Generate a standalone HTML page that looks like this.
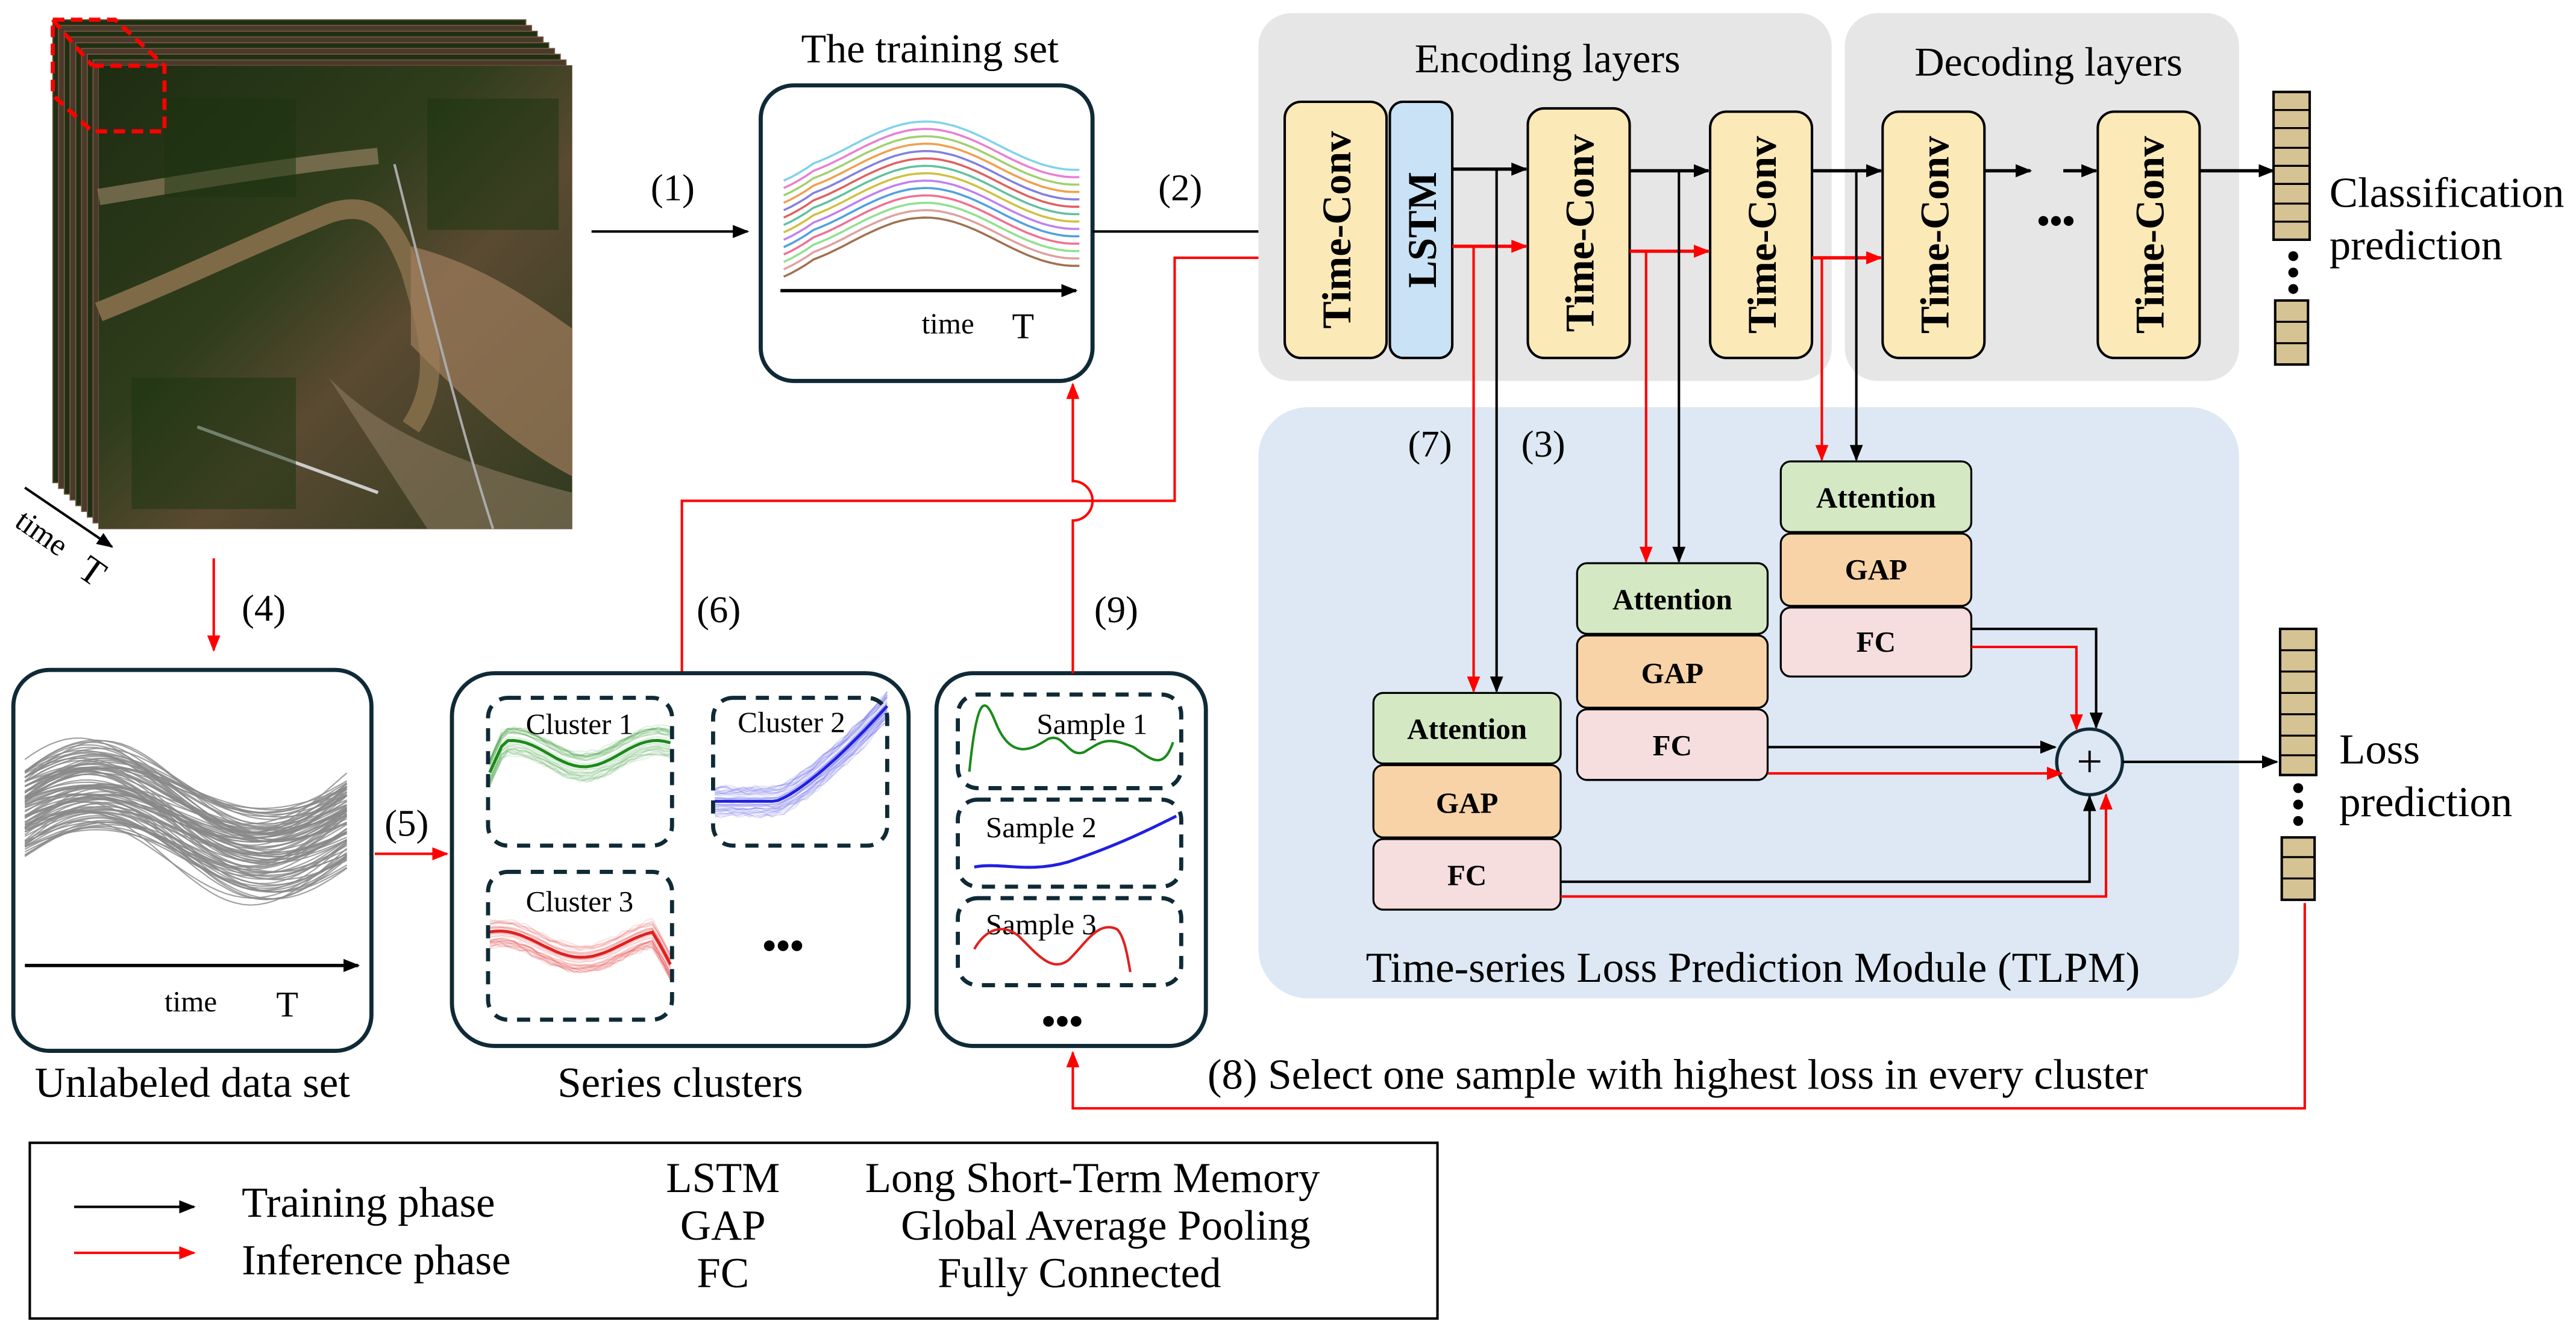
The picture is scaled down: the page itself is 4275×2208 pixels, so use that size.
<!DOCTYPE html>
<html><head><meta charset="utf-8">
<style>
html,body{margin:0;padding:0;background:#fff;}
svg{display:block;}
svg text{font-family:"Liberation Serif","Times New Roman",serif;fill:#000;}
.b{font-weight:bold;}
</style></head>
<body>
<svg id="s" width="4275" height="2208" viewBox="0 0 1568 810" xmlns="http://www.w3.org/2000/svg" font-family="Liberation Serif, serif">
<defs>
<marker id="ak" markerWidth="10" markerHeight="8" refX="9" refY="4" orient="auto" markerUnits="userSpaceOnUse"><path d="M0,0 L10,4 L0,8 z" fill="#000"/></marker>
<marker id="ar" markerWidth="10" markerHeight="8" refX="9" refY="4" orient="auto" markerUnits="userSpaceOnUse"><path d="M0,0 L10,4 L0,8 z" fill="#f00"/></marker>
<linearGradient id="sat" x1="0" y1="0" x2="1" y2="1">
<stop offset="0" stop-color="#1e2c12"/><stop offset="0.4" stop-color="#2f3d1c"/><stop offset="0.6" stop-color="#5a4a32"/><stop offset="1" stop-color="#2e3a1e"/>
</linearGradient>
</defs>

<g id="stack"></g>
<g>
<rect x="60" y="40" width="288" height="282" fill="url(#sat)"/>
<path d="M60,190 C110,170 150,150 200,130 C230,120 240,140 250,165 C260,200 270,230 250,260" stroke="#7f6a48" stroke-width="12" fill="none"/>
<path d="M250,150 C290,160 320,180 348,200 L348,290 C310,270 280,240 250,210 Z" fill="#a07d5c" opacity="0.7"/>
<path d="M60,120 C120,110 180,100 230,95" stroke="#b89a7a" stroke-width="10" fill="none" opacity="0.5"/>
<path d="M200,230 C230,260 270,280 348,300 L348,322 L260,322 Z" fill="#8c7a60" opacity="0.6"/>
<path d="M120,260 L230,300" stroke="#ccc" stroke-width="2"/>
<path d="M240,100 C260,180 280,260 300,322" stroke="#aaa" stroke-width="1.5" fill="none"/>
<rect x="100" y="60" width="80" height="60" fill="#1a3310" opacity="0.5"/>
<rect x="260" y="60" width="80" height="80" fill="#1a3310" opacity="0.5"/>
<rect x="80" y="230" width="100" height="80" fill="#1a3310" opacity="0.5"/>
</g>
<path d="M32,12 L70,12 L100,40 L100,80 L56,80 L32,58 Z" fill="none" stroke="#f00" stroke-width="2.5" stroke-dasharray="7,4"/>
<path d="M56,40 L100,40 M32,12 L56,40" fill="none" stroke="#f00" stroke-width="2.5" stroke-dasharray="7,4"/>
<line x1="15" y1="297" x2="68" y2="333" stroke="#000" stroke-width="1.5" marker-end="url(#ak)"/>
<text x="8" y="320" font-size="19" transform="rotate(35 8 320)">time</text>
<text x="46" y="350" font-size="23" font-family="Liberation Sans, sans-serif" transform="rotate(35 46 350)">T</text>

<text x="396" y="122" font-size="23">(1)</text>
<line x1="360" y1="141" x2="455" y2="141" stroke="#000" stroke-width="1.5" marker-end="url(#ak)"/>

<text x="566" y="38" font-size="25" text-anchor="middle">The training set</text>
<rect x="463" y="52" width="202" height="180" rx="20" fill="#fff" stroke="#0f2a36" stroke-width="2.5"/>
<g id="train"></g>
<line x1="475" y1="177" x2="655" y2="177" stroke="#000" stroke-width="2" marker-end="url(#ak)"/>
<text x="561" y="203" font-size="18">time</text>
<text x="616" y="206" font-size="22" font-family="Liberation Sans, sans-serif">T</text>

<text x="705" y="122" font-size="23">(2)</text>
<line x1="665" y1="141" x2="780" y2="141" stroke="#000" stroke-width="1.5" marker-end="url(#ak)"/>
<polyline points="415,410 415,305 715,305 715,157 780,157" fill="none" stroke="#f00" stroke-width="1.5" marker-end="url(#ar)"/>

<rect x="766" y="8" width="349" height="224" rx="20" fill="#e6e6e6"/>
<rect x="1123" y="8" width="240" height="224" rx="20" fill="#e6e6e6"/>
<text x="942" y="44" font-size="25" text-anchor="middle">Encoding layers</text>
<text x="1247" y="46" font-size="25" text-anchor="middle">Decoding layers</text>

<g stroke="#000" stroke-width="1.5">
<rect x="782" y="62" width="62" height="156" rx="10" fill="#fbe9b7"/>
<rect x="846" y="62" width="38" height="156" rx="8" fill="#c9e2f5"/>
<rect x="930" y="66" width="62" height="152" rx="10" fill="#fbe9b7"/>
<rect x="1041" y="68" width="62" height="150" rx="10" fill="#fbe9b7"/>
<rect x="1146" y="68" width="62" height="150" rx="10" fill="#fbe9b7"/>
<rect x="1277" y="68" width="62" height="150" rx="10" fill="#fbe9b7"/>
</g>
<g font-size="25" text-anchor="middle">
<text class="b" transform="translate(822,140) rotate(-90)">Time-Conv</text>
<text class="b" transform="translate(874,140) rotate(-90)">LSTM</text>
<text class="b" transform="translate(970,142) rotate(-90)">Time-Conv</text>
<text class="b" transform="translate(1081,143) rotate(-90)">Time-Conv</text>
<text class="b" transform="translate(1186,143) rotate(-90)">Time-Conv</text>
<text class="b" transform="translate(1317,143) rotate(-90)">Time-Conv</text>
</g>
<g stroke="#000" stroke-width="2" marker-end="url(#ak)">
<line x1="884" y1="103" x2="929" y2="103"/>
<line x1="992" y1="104" x2="1040" y2="104"/>
<line x1="1103" y1="104" x2="1145" y2="104"/>
<line x1="1208" y1="104" x2="1236" y2="104"/>
<line x1="1256" y1="104" x2="1276" y2="104"/>
<line x1="1339" y1="104" x2="1384" y2="104"/>
</g>
<text x="1240" y="142" font-size="22" class="b">•••</text>
<g stroke="#f00" stroke-width="2" marker-end="url(#ar)">
<line x1="884" y1="150" x2="929" y2="150"/>
<line x1="992" y1="153" x2="1040" y2="153"/>
<line x1="1103" y1="157" x2="1145" y2="157"/>
</g>

<g fill="#d6c393" stroke="#000" stroke-width="1.5">
<rect x="1384" y="56" width="22" height="90"/>
<rect x="1385" y="183" width="20" height="39"/>
</g>
<g stroke="#000" stroke-width="1.2">
<line x1="1384" y1="67" x2="1406" y2="67"/><line x1="1384" y1="78" x2="1406" y2="78"/><line x1="1384" y1="90" x2="1406" y2="90"/><line x1="1384" y1="101" x2="1406" y2="101"/><line x1="1384" y1="112" x2="1406" y2="112"/><line x1="1384" y1="124" x2="1406" y2="124"/><line x1="1384" y1="135" x2="1406" y2="135"/>
<line x1="1385" y1="196" x2="1405" y2="196"/><line x1="1385" y1="209" x2="1405" y2="209"/>
</g>
<g fill="#000"><circle cx="1396" cy="156" r="3"/><circle cx="1396" cy="166" r="3"/><circle cx="1396" cy="176" r="3"/></g>
<text x="1418" y="126" font-size="26">Classification</text>
<text x="1418" y="158" font-size="26">prediction</text>

<rect x="766" y="248" width="597" height="360" rx="30" fill="#dde8f4"/>
<text x="1067" y="598" font-size="26" text-anchor="middle">Time-series Loss Prediction Module (TLPM)</text>
<text x="857" y="278" font-size="23">(7)</text>
<text x="926" y="278" font-size="23">(3)</text>

<g stroke="#000" stroke-width="1.5" marker-end="url(#ak)">
<line x1="911" y1="103" x2="911" y2="421"/>
<line x1="1022" y1="104" x2="1022" y2="342"/>
<line x1="1130" y1="104" x2="1130" y2="280"/>
</g>
<g stroke="#f00" stroke-width="1.5" marker-end="url(#ar)">
<line x1="897" y1="150" x2="897" y2="421"/>
<line x1="1002" y1="153" x2="1002" y2="342"/>
<line x1="1109" y1="157" x2="1109" y2="280"/>
</g>

<g stroke="#000" stroke-width="1.2">
<rect x="836" y="422" width="114" height="43" rx="6" fill="#d5e8c4"/>
<rect x="836" y="466" width="114" height="44" rx="6" fill="#f8d3a8"/>
<rect x="836" y="511" width="114" height="43" rx="6" fill="#f6dede"/>
<rect x="960" y="343" width="116" height="43" rx="6" fill="#d5e8c4"/>
<rect x="960" y="387" width="116" height="44" rx="6" fill="#f8d3a8"/>
<rect x="960" y="432" width="116" height="43" rx="6" fill="#f6dede"/>
<rect x="1084" y="281" width="116" height="43" rx="6" fill="#d5e8c4"/>
<rect x="1084" y="325" width="116" height="44" rx="6" fill="#f8d3a8"/>
<rect x="1084" y="370" width="116" height="42" rx="6" fill="#f6dede"/>
</g>
<g font-size="18" text-anchor="middle">
<text class="b" x="893" y="450">Attention</text><text class="b" x="893" y="495">GAP</text><text class="b" x="893" y="539">FC</text>
<text class="b" x="1018" y="371">Attention</text><text class="b" x="1018" y="416">GAP</text><text class="b" x="1018" y="460">FC</text>
<text class="b" x="1142" y="309">Attention</text><text class="b" x="1142" y="353">GAP</text><text class="b" x="1142" y="397">FC</text>
</g>

<circle cx="1272" cy="464" r="20" fill="#dde8f4" stroke="#0f2a36" stroke-width="2"/>
<text x="1272" y="473" font-size="28" text-anchor="middle" font-family="Liberation Sans, sans-serif">+</text>
<g fill="none" stroke="#000" stroke-width="1.5" marker-end="url(#ak)">
<polyline points="1200,383 1276,383 1276,443"/>
<line x1="1076" y1="455" x2="1251" y2="455"/>
<polyline points="950,537 1272,537 1272,485"/>
<line x1="1292" y1="464" x2="1386" y2="464"/>
</g>
<g fill="none" stroke="#f00" stroke-width="1.5" marker-end="url(#ar)">
<polyline points="1200,394 1264,394 1264,444"/>
<line x1="1076" y1="471" x2="1255" y2="471"/>
<polyline points="950,546 1282,546 1282,484"/>
</g>

<g fill="#d6c393" stroke="#000" stroke-width="1.5">
<rect x="1388" y="383" width="22" height="89"/>
<rect x="1389" y="510" width="20" height="38"/>
</g>
<g stroke="#000" stroke-width="1.2">
<line x1="1388" y1="396" x2="1410" y2="396"/><line x1="1388" y1="409" x2="1410" y2="409"/><line x1="1388" y1="422" x2="1410" y2="422"/><line x1="1388" y1="435" x2="1410" y2="435"/><line x1="1388" y1="448" x2="1410" y2="448"/><line x1="1388" y1="460" x2="1410" y2="460"/>
<line x1="1389" y1="522" x2="1409" y2="522"/><line x1="1389" y1="535" x2="1409" y2="535"/>
</g>
<g fill="#000"><circle cx="1399" cy="480" r="3"/><circle cx="1399" cy="490" r="3"/><circle cx="1399" cy="500" r="3"/></g>
<text x="1424" y="465" font-size="26">Loss</text>
<text x="1424" y="497" font-size="26">prediction</text>

<polyline points="1403,550 1403,675 653,675 653,641" fill="none" stroke="#f00" stroke-width="1.5" marker-end="url(#ar)"/>
<text x="735" y="663" font-size="26">(8)  Select one sample with highest loss in every cluster</text>

<line x1="130" y1="340" x2="130" y2="396" stroke="#f00" stroke-width="1.5" marker-end="url(#ar)"/>
<text x="147" y="378" font-size="23">(4)</text>

<rect x="8" y="408" width="218" height="232" rx="22" fill="#fff" stroke="#0f2a36" stroke-width="2.5"/>
<g id="unl"></g>
<line x1="15" y1="588" x2="218" y2="588" stroke="#000" stroke-width="2" marker-end="url(#ak)"/>
<text x="100" y="616" font-size="18">time</text>
<text x="168" y="619" font-size="22" font-family="Liberation Sans, sans-serif">T</text>
<text x="117" y="668" font-size="26" text-anchor="middle">Unlabeled data set</text>

<text x="234" y="509" font-size="23">(5)</text>
<line x1="228" y1="520" x2="272" y2="520" stroke="#f00" stroke-width="1.5" marker-end="url(#ar)"/>

<rect x="275" y="410" width="278" height="227" rx="26" fill="#fff" stroke="#0f2a36" stroke-width="2.5"/>
<g id="clu"></g>
<g fill="none" stroke="#0f2a36" stroke-width="2.5" stroke-dasharray="8,6">
<rect x="297" y="425" width="112" height="90" rx="12"/>
<rect x="434" y="425" width="106" height="90" rx="12"/>
<rect x="297" y="531" width="112" height="90" rx="12"/>
</g>
<g font-size="18"><text x="320" y="447">Cluster 1</text><text x="449" y="446">Cluster 2</text><text x="320" y="555">Cluster 3</text></g>
<text x="464" y="584" font-size="24" class="b">•••</text>
<text x="414" y="668" font-size="26" text-anchor="middle">Series clusters</text>

<text x="424" y="379" font-size="23">(6)</text>

<rect x="570" y="410" width="164" height="227" rx="22" fill="#fff" stroke="#0f2a36" stroke-width="2.5"/>
<g fill="none" stroke="#0f2a36" stroke-width="2.5" stroke-dasharray="8,6">
<rect x="583" y="423" width="136" height="57" rx="12"/>
<rect x="583" y="487" width="136" height="53" rx="12"/>
<rect x="583" y="547" width="136" height="53" rx="12"/>
</g>
<g font-size="18"><text x="631" y="447">Sample 1</text><text x="600" y="510">Sample 2</text><text x="600" y="569">Sample 3</text></g>
<path d="M590,470 C595,420 600,425 606,440 C616,465 630,455 638,450 C648,446 650,462 660,458 C670,452 673,448 690,455 C700,462 708,470 714,452" fill="none" stroke="#1a8a1a" stroke-width="1.5"/>
<path d="M593,528 C610,525 625,532 650,525 C680,515 700,505 716,497" fill="none" stroke="#2020e0" stroke-width="1.8"/>
<path d="M593,578 C600,566 610,562 620,570 C632,582 640,592 650,585 C660,576 668,560 680,566 C684,570 686,580 688,592" fill="none" stroke="#e02020" stroke-width="1.5"/>
<text x="634" y="630" font-size="24" class="b">•••</text>

<path d="M653,410 L653,317 A12,12 0 0 0 653,293 L653,234" fill="none" stroke="#f00" stroke-width="1.5" marker-end="url(#ar)"/>
<text x="666" y="379" font-size="23">(9)</text>

<rect x="18" y="696" width="857" height="107" fill="#fff" stroke="#000" stroke-width="1.5"/>
<line x1="45" y1="735" x2="118" y2="735" stroke="#000" stroke-width="1.5" marker-end="url(#ak)"/>
<line x1="45" y1="763" x2="118" y2="763" stroke="#f00" stroke-width="1.5" marker-end="url(#ar)"/>
<g font-size="26">
<text x="147" y="741">Training phase</text>
<text x="147" y="776">Inference phase</text>
<text x="440" y="726" text-anchor="middle">LSTM</text>
<text x="440" y="755" text-anchor="middle">GAP</text>
<text x="440" y="784" text-anchor="middle">FC</text>
<text x="665" y="726" text-anchor="middle">Long Short-Term Memory</text>
<text x="673" y="755" text-anchor="middle">Global Average Pooling</text>
<text x="657" y="784" text-anchor="middle">Fully Connected</text>
</g>
</svg>
<script>
(function(){
var NS="http://www.w3.org/2000/svg";
function P(g,d,c,w,o){var p=document.createElementNS(NS,"path");p.setAttribute("d",d);p.setAttribute("fill","none");p.setAttribute("stroke",c);p.setAttribute("stroke-width",w);if(o!=null)p.setAttribute("opacity",o);g.appendChild(p);}
var seed=7;function r(){seed=(seed*9301+49297)%233280;return seed/233280;}
var st=document.getElementById("stack");
for(var i=0;i<9;i++){var x=32+i*3.5,y=12+i*3.5;var rc=document.createElementNS(NS,"rect");rc.setAttribute("x",x);rc.setAttribute("y",y);rc.setAttribute("width",288);rc.setAttribute("height",282);rc.setAttribute("fill",i%2?"#4a3a2a":"#1f3012");rc.setAttribute("stroke","#7a5a48");rc.setAttribute("stroke-width","0.6");st.appendChild(rc);}
var cols=["#7fd3e8","#e87fd3","#a0d070","#f0a050","#8080e0","#e06060","#60c0a0","#d0c040","#c080f0","#50a0e0","#f07090","#90e090","#e0a0a0","#a07050"];
var tg=document.getElementById("train");
cols.forEach(function(c,k){var off=k*4.5;var d="";for(var t=0;t<=40;t++){var u=t/40;var x=477+t*4.5;var y=92+off+12*Math.cos(u*2*Math.PI*1.05)-6*Math.sin(u*Math.PI)+(u<0.1?(0.1-u)*60:0);d+=(t?"L":"M")+x.toFixed(1)+","+y.toFixed(1);}P(tg,d,c,1.3);});
var ug=document.getElementById("unl");
for(var k=0;k<90;k++){var a=(r()-0.5)*80,amp=12+r()*18,ph=(r()-0.5)*0.6;var d="";for(var t=0;t<=40;t++){var x=15+t*4.9;var y=500+a*0.6-amp*Math.sin((t/40)*Math.PI*1.9+0.3+ph);d+=(t?"L":"M")+x.toFixed(1)+","+y.toFixed(1);}P(ug,d,"#888",0.8,0.8);}
var cg=document.getElementById("clu");
function clus(x0,y0,w,f,c,n){for(var k=0;k<n;k++){var s=(r()-0.5)*30;var d="";for(var t=0;t<=30;t++){var u=t/30;var y=f(u)+s*(0.5+r()*0.2);d+=(t?"L":"M")+(x0+u*w).toFixed(1)+","+(y0+y).toFixed(1);}P(cg,d,c,0.8,0.12);}
var d="";for(var t=0;t<=30;t++){var u=t/30;d+=(t?"L":"M")+(x0+u*w).toFixed(1)+","+(y0+f(u)).toFixed(1);}P(cg,d,c,1.8,1);}
clus(298,462,110,function(u){return -8*Math.sin(u*Math.PI*2.5+0.6)+(u<0.08?(0.08-u)*200:0)-3;},"#1a8a1a",40);
clus(435,460,105,function(u){return u<0.35?28:28-Math.pow((u-0.35)/0.65,1.3)*58;},"#2020e0",40);
clus(298,575,110,function(u){return -8*Math.sin(u*Math.PI*2.2+1.2)+(u>0.9?(u-0.9)*200:0);},"#e02020",40);
})();
</script>
</body></html>
